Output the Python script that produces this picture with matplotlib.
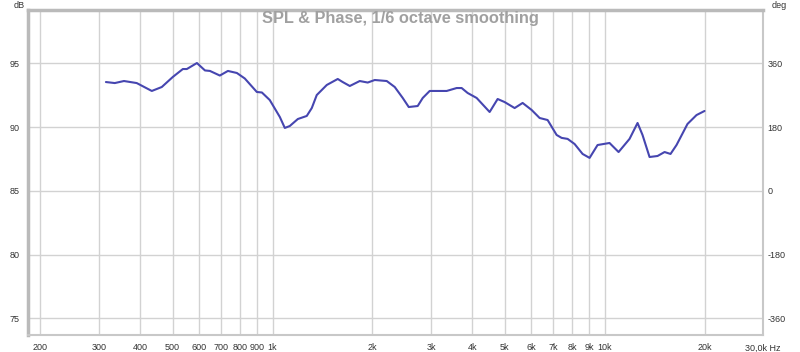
import numpy as np
import matplotlib
matplotlib.use("Agg")
import matplotlib.pyplot as plt
from matplotlib.ticker import FixedLocator, FixedFormatter, NullLocator

# ── données ───────────────────────────────────────────────
freq_hz = [315, 335, 357, 390, 433, 464, 501, 537, 552, 592,
           626, 648, 694, 734, 781, 825, 897, 929, 981, 1052,
           1089, 1127, 1192, 1268, 1313, 1359, 1457, 1572, 1627, 1709,
           1831, 1935, 2032, 2208, 2334, 2467, 2572, 2737, 2834, 2974,
           3346, 3585, 3712, 3870, 4119, 4507, 4764, 5000, 5360, 5665,
           6030, 6374, 6738, 7171, 7424, 7740, 8123, 8587, 9013, 9526,
           10350, 11020, 11890, 12570, 13010, 13660, 14440, 15160, 15800, 16470,
           17770, 18920, 20000]
spl_db = [93.53, 93.45, 93.61, 93.45, 92.83, 93.14, 93.93, 94.55, 94.55, 95.02,
          94.44, 94.40, 94.04, 94.40, 94.24, 93.81, 92.75, 92.71, 92.12, 90.79,
          89.93, 90.08, 90.63, 90.87, 91.49, 92.51, 93.30, 93.77, 93.53, 93.22,
          93.61, 93.49, 93.69, 93.61, 93.14, 92.28, 91.57, 91.65, 92.28, 92.83,
          92.83, 93.06, 93.06, 92.67, 92.28, 91.18, 92.20, 91.96, 91.49, 91.89,
          91.34, 90.71, 90.55, 89.38, 89.15, 89.07, 88.67, 87.89, 87.58, 88.59,
          88.75, 88.04, 89.07, 90.32, 89.38, 87.65, 87.73, 88.04, 87.89, 88.59,
          90.24, 90.94, 91.26]

x_ticks = [200, 300, 400, 500, 600, 700, 800, 900,
           1000, 2000, 3000, 4000, 5000, 6000, 7000, 8000, 9000,
           10000, 20000, 30000]
x_labels = ["200", "300", "400", "500", "600", "700", "800", "900",
            "1k", "2k", "3k", "4k", "5k", "6k", "7k", "8k", "9k",
            "10k", "20k", "30,0k Hz"]
db_ticks = [75, 80, 85, 90, 95]
deg_ticks = [-360, -180, 0, 180, 360]

titre = "SPL & Phase, 1/6 octave smoothing"

# ── graphique ─────────────────────────────────────────────
plt.rcParams["font.family"] = ["Liberation Sans", "DejaVu Sans"]

fig = plt.figure(figsize=(8, 3.52), dpi=100)
fig.patch.set_facecolor("white")
ax = fig.add_axes([28 / 800, 1 - 335 / 352, 735 / 800, 325 / 352])

ax.plot(freq_hz, spl_db, color="#4646b0", linewidth=1.5, zorder=3,
        solid_joinstyle="round", solid_capstyle="round")

ax.set_xscale("log")
ax.set_xlim(183.5, 30000)
ax.set_ylim(73.69, 99.18)

ax.xaxis.set_major_locator(FixedLocator(x_ticks))
ax.xaxis.set_major_formatter(FixedFormatter(x_labels))
ax.xaxis.set_minor_locator(NullLocator())
ax.set_yticks(db_ticks)
ax.set_yticklabels([str(v) for v in db_ticks])

ax.grid(True, color="#d2d2d2", linewidth=1.0, zorder=0)
ax.tick_params(axis="both", length=0, labelsize=6.5, colors="#333333")
ax.tick_params(axis="x", pad=6)
ax.tick_params(axis="y", pad=6)

# cadre : bords gauche/haut plus épais
for nom, sp in ax.spines.items():
    if nom in ("left", "top"):
        sp.set_color("#bababa")
        sp.set_linewidth(2.5)
    else:
        sp.set_color("#c8c8c8")
        sp.set_linewidth(1.5)

# axe droit en degrés
ax2 = ax.twinx()
lo, hi = ax.get_ylim()
ax2.set_ylim((lo - 85) * 36, (hi - 85) * 36)
ax2.set_yticks(deg_ticks)
ax2.set_yticklabels([str(v) for v in deg_ticks])
ax2.tick_params(axis="y", length=0, labelsize=6.5, colors="#333333", pad=3)
for sp in ax2.spines.values():
    sp.set_visible(False)

fig.text(400 / 800, 1 - 19 / 352, titre, ha="center", va="center",
         fontsize=11.8, fontweight="bold", color="#a0a0a0")
fig.text(14 / 800, 1 - 5 / 352, "dB", ha="left", va="center",
         fontsize=6.5, color="#333333")
fig.text(772 / 800, 1 - 5 / 352, "deg", ha="left", va="center",
         fontsize=6.5, color="#333333")

fig.savefig("out.png", dpi=100)
